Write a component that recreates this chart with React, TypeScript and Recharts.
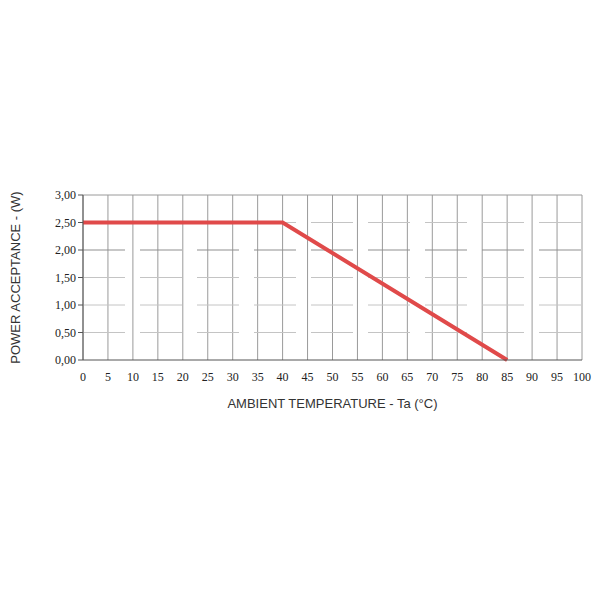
import { LineChart, Line, XAxis, YAxis, CartesianGrid } from 'recharts'

// derating curve points
const temperatures = [0, 40, 85]
const power = [2.5, 2.5, 0]

const xTicks = [0, 5, 10, 15, 20, 25, 30, 35, 40, 45, 50, 55, 60, 65, 70, 75, 80, 85, 90, 95, 100]
const yTicks = [0, 0.5, 1, 1.5, 2, 2.5, 3]
const lightRows = [0.5, 1, 1.5, 2.5]
const darkRows = [2]

const data = temperatures.map((t, i) => ({ t, p: power[i] }))

const serif = '"Liberation Serif", "DejaVu Serif", serif'
const sans = '"Liberation Sans", Arial, sans-serif'

const App = () => {
  return (
    <div style={{ position: 'absolute', left: 0, top: 0, width: 600, height: 600, background: '#fff' }}>
      <LineChart width={600} height={600} data={data} margin={{ top: 195, right: 18, bottom: 210, left: 23 }}>
        {/* vertical grid, solid */}
        <CartesianGrid horizontal={false} stroke="#9a9a9a" strokeWidth={1} />
        {/* horizontal grid, dashed */}
        <CartesianGrid vertical={false} horizontalValues={lightRows} stroke="#c4c4c4" strokeWidth={1} strokeDasharray="42 15" />
        <CartesianGrid vertical={false} horizontalValues={darkRows} stroke="#8f8f8f" strokeWidth={1} strokeDasharray="42 15" />
        <CartesianGrid vertical={false} horizontalValues={[3]} stroke="#9a9a9a" strokeWidth={1} />
        <XAxis
          dataKey="t"
          type="number"
          domain={[0, 100]}
          ticks={xTicks}
          interval={0}
          tickLine={false}
          stroke="#555"
          height={30}
          tick={{ fill: '#222', fontSize: 12, fontFamily: serif }}
          tickMargin={6}
          label={{ value: 'AMBIENT TEMPERATURE - Ta (°C)', position: 'insideBottom', offset: -18, fill: '#333', fontSize: 13, fontFamily: sans }}
        />
        <YAxis
          type="number"
          domain={[0, 3]}
          ticks={yTicks}
          interval={0}
          width={60}
          stroke="#555"
          tickSize={5}
          tick={{ fill: '#222', fontSize: 12, fontFamily: serif }}
          tickFormatter={(v: number) => v.toFixed(2).replace('.', ',')}
          label={{ value: 'POWER ACCEPTANCE - (W)', angle: -90, position: 'insideLeft', offset: -8, fill: '#333', fontSize: 13, fontFamily: sans, style: { textAnchor: 'middle' } }}
        />
        <Line
          type="linear"
          dataKey="p"
          stroke="#e04a4a"
          strokeWidth={4}
          dot={false}
          isAnimationActive={false}
        />
      </LineChart>
    </div>
  )
}

export default App
